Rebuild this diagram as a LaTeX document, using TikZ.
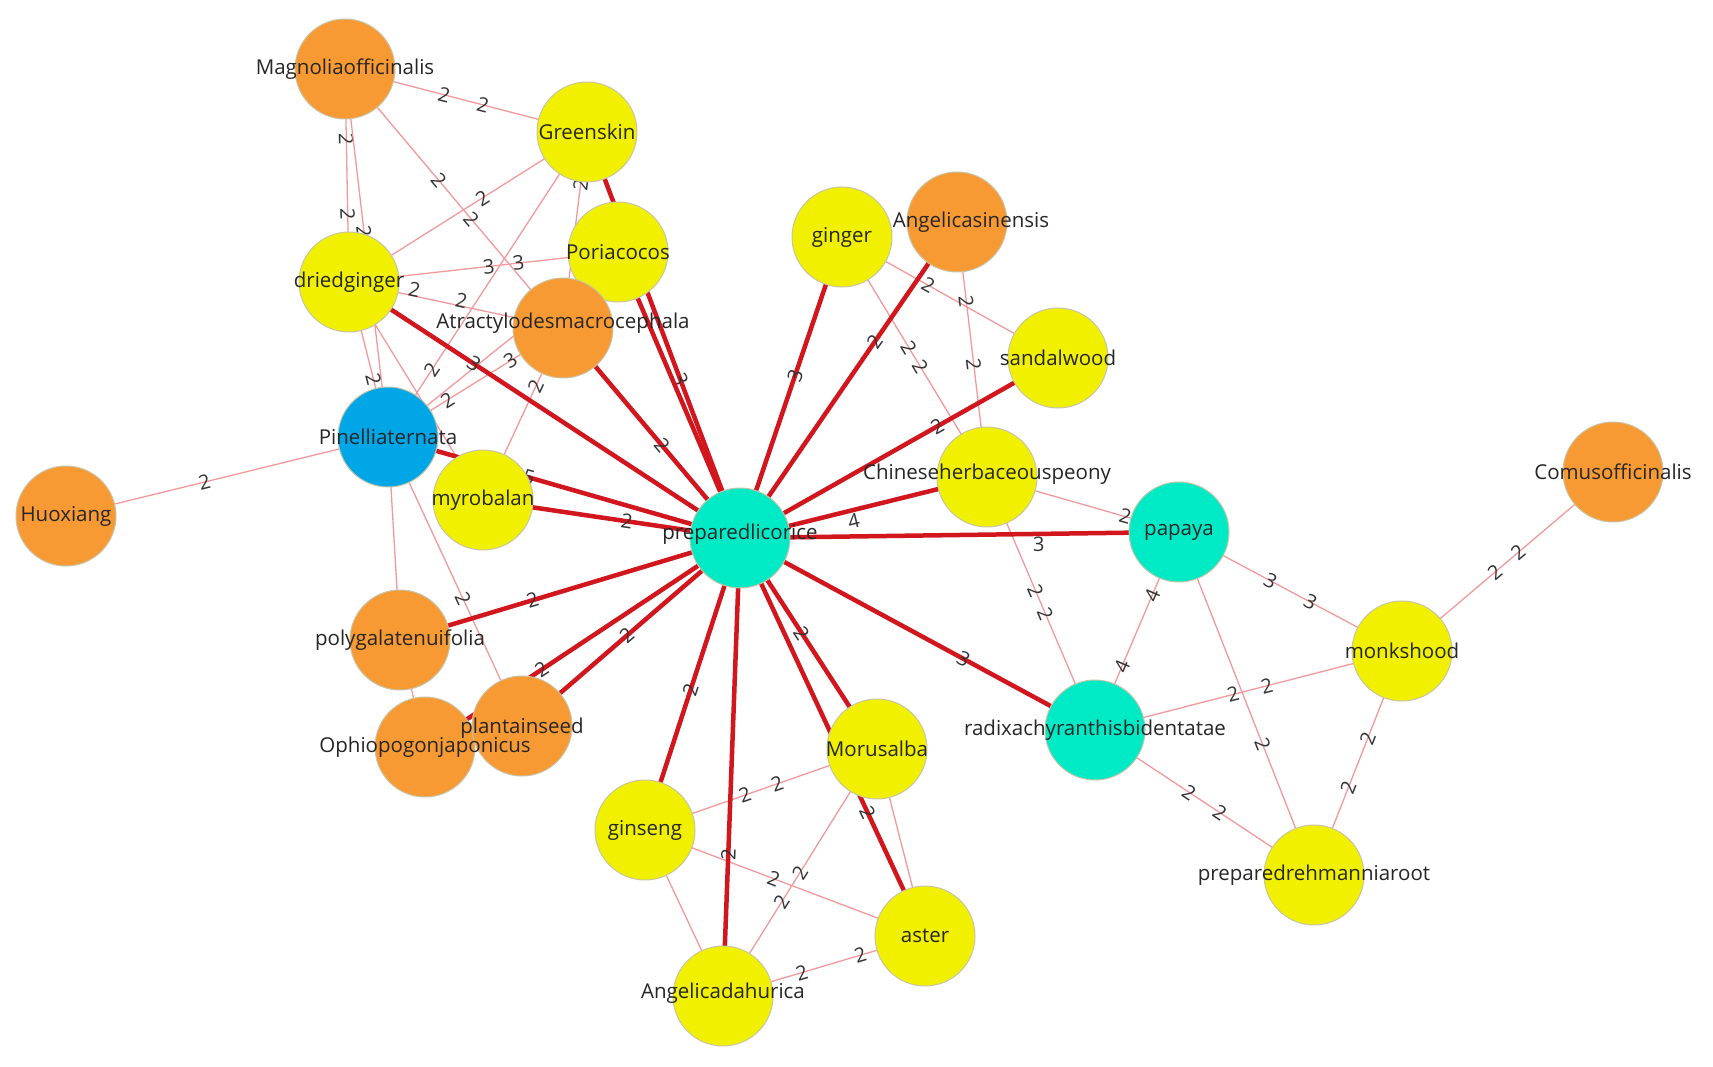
\documentclass[tikz,border=0pt]{standalone}
\usepackage{fontspec}
\setmainfont{Open Sans}
\usetikzlibrary{backgrounds}
\definecolor{cyel}{HTML}{F0F000}
\definecolor{corg}{HTML}{F89A33}
\definecolor{ctur}{HTML}{00EAC6}
\definecolor{cblu}{HTML}{00A6E6}
\definecolor{cbord}{HTML}{C8C4A8}
\definecolor{cthick}{HTML}{D2161E}
\definecolor{cthin}{HTML}{F2999C}
\definecolor{ctext}{HTML}{262626}
\definecolor{clab}{HTML}{333333}
\tikzset{
  herb/.style={circle, minimum size=100pt, inner sep=0pt, draw=cbord, line width=1pt},
  yel/.style={herb, fill=cyel},
  org/.style={herb, fill=corg},
  tur/.style={herb, fill=ctur},
  blu/.style={herb, fill=cblu},
  tk/.style={draw=cthick, line width=4.5pt},
  tn/.style={draw=cthin, line width=1.3pt},
  elab/.style={font=\fontsize{20}{20}\selectfont, text=clab, inner sep=1pt, sloped},
  nlab/.style={font=\fontsize{20.5}{21}\selectfont, text=ctext, inner sep=0pt}
}
\begin{document}
\begin{tikzpicture}[x=1pt,y=-1pt]
\useasboundingbox (0,0) rectangle (1713,1067);
% nodes (circles)
\node[org] (mag) at (345,69) {};
\node[yel] (green) at (587,132) {};
\node[yel] (poria) at (618,252) {};
\node[yel] (dried) at (349,282) {};
\node[org] (atrac) at (563,328) {};
\node[blu] (pinel) at (388,437) {};
\node[yel] (myro) at (483,500) {};
\node[org] (huox) at (66,516) {};
\node[tur] (pl) at (740,538) {};
\node[yel] (ginger) at (842,237) {};
\node[org] (asin) at (957,222) {};
\node[yel] (sandal) at (1058,358) {};
\node[yel] (peony) at (987,477) {};
\node[tur] (papaya) at (1179,532) {};
\node[org] (cornus) at (1613,472) {};
\node[yel] (monk) at (1402,651) {};
\node[tur] (radix) at (1095,730) {};
\node[yel] (rehm) at (1314,875) {};
\node[org] (polyg) at (400,640) {};
\node[org] (ophio) at (425,747) {};
\node[org] (plant) at (522,726) {};
\node[yel] (morus) at (877,749) {};
\node[yel] (ginseng) at (645,830) {};
\node[yel] (aster) at (925,936) {};
\node[yel] (adah) at (723,996) {};
% connectors behind the circles
\begin{pgfonlayer}{background}
\fill[white] (0,0) rectangle (1713,1067);
% thin connectors
\path[tn] (mag.center) -- (green.center) node[elab,pos=.41]{2} node[elab,pos=.57]{2};
\path[tn] (mag.center) -- (dried.center) node[elab,pos=.33]{2} node[elab,pos=.68]{2};
\path[tn] (mag.center) -- (pinel.center) node[elab,pos=.44]{2};
\path[tn] (mag.center) -- (atrac.center) node[elab,pos=.43]{2} node[elab,pos=.58]{2};
\path[tn] (green.center) -- (dried.center) node[elab,pos=.44]{2};
\path[tn] (green.center) -- (pinel.center) node[elab,pos=.78]{2};
\path[tn] (green.center) -- (atrac.center) node[elab,pos=.27]{2};
\path[tn] (dried.center) -- (poria.center) node[elab,pos=.52]{3} node[elab,pos=.63]{3};
\path[tn] (dried.center) -- (atrac.center) node[elab,pos=.30,above=-3pt]{2} node[elab,pos=.52,above=-3pt]{2};
\path[tn] (dried.center) -- (pinel.center) node[elab,pos=.63]{2};
\path[tn] (dried.center) -- (myro.center);
\path[tn] (pinel.center) -- (atrac.center) node[elab,pos=.34]{2} node[elab,pos=.70]{3};
\path[tn] (pinel.center) -- (poria.center);
\path[tn] (pinel.center) -- (huox.center) node[elab,pos=.57]{2};
\path[tn] (pinel.center) -- (polyg.center);
\path[tn] (pinel.center) -- (plant.center) node[elab,pos=.56]{2};
\path[tn] (atrac.center) -- (myro.center) node[elab,pos=.34]{2};
\path[tn] (polyg.center) -- (ophio.center);
\path[tn] (ginger.center) -- (sandal.center) node[elab,pos=.40]{2};
\path[tn] (asin.center) -- (peony.center) node[elab,pos=.31]{2} node[elab,pos=.56]{2};
\path[tn] (ginger.center) -- (peony.center) node[elab,pos=.46]{2} node[elab,pos=.54]{2};
\path[tn] (peony.center) -- (papaya.center) node[elab,pos=.72]{2};
\path[tn] (peony.center) -- (radix.center) node[elab,pos=.45]{2} node[elab,pos=.54]{2};
\path[tn] (papaya.center) -- (radix.center) node[elab,pos=.32]{4} node[elab,pos=.68]{4};
\path[tn] (papaya.center) -- (monk.center) node[elab,pos=.41]{3} node[elab,pos=.59]{3};
\path[tn] (papaya.center) -- (rehm.center) node[elab,pos=.62]{2};
\path[tn] (radix.center) -- (monk.center) node[elab,pos=.45]{2} node[elab,pos=.56]{2};
\path[tn] (radix.center) -- (rehm.center) node[elab,pos=.43]{2} node[elab,pos=.57]{2};
\path[tn] (monk.center) -- (rehm.center) node[elab,pos=.39]{2} node[elab,pos=.61]{2};
\path[tn] (cornus.center) -- (monk.center) node[elab,pos=.45]{2} node[elab,pos=.56]{2};
\path[tn] (ginseng.center) -- (morus.center) node[elab,pos=.43]{2} node[elab,pos=.57]{2};
\path[tn] (ginseng.center) -- (aster.center) node[elab,pos=.46]{2};
\path[tn] (ginseng.center) -- (adah.center);
\path[tn] (morus.center) -- (adah.center) node[elab,pos=.50]{2} node[elab,pos=.62]{2};
\path[tn] (morus.center) -- (aster.center);
\path[tn] (aster.center) -- (adah.center) node[elab,pos=.32]{2} node[elab,pos=.61]{2};
% thick connectors from preparedlicorice
\path[tk] (pl.center) -- (dried.center) node[elab,pos=.68]{3};
\path[tk] (pl.center) -- (green.center) node[elab,pos=.39]{3};
\path[tk] (pl.center) -- (poria.center);
\path[tk] (pl.center) -- (atrac.center) node[elab,pos=.44]{2};
\path[tk] (pl.center) -- (pinel.center) node[elab,pos=.60]{5};
\path[tk] (pl.center) -- (myro.center) node[elab,pos=.44]{2};
\path[tk] (pl.center) -- (ginger.center) node[elab,pos=.54]{3};
\path[tk] (pl.center) -- (asin.center) node[elab,pos=.62]{2};
\path[tk] (pl.center) -- (sandal.center) node[elab,pos=.62]{2};
\path[tk] (pl.center) -- (peony.center) node[elab,pos=.45,below]{4};
\path[tk] (pl.center) -- (papaya.center) node[elab,pos=.68,below]{3};
\path[tk] (pl.center) -- (radix.center) node[elab,pos=.63]{3};
\path[tk] (pl.center) -- (polyg.center) node[elab,pos=.61]{2};
\path[tk] (pl.center) -- (plant.center) node[elab,pos=.52]{2};
\path[tk] (pl.center) -- (ophio.center) node[elab,pos=.63]{2};
\path[tk] (pl.center) -- (ginseng.center) node[elab,pos=.52]{2};
\path[tk] (pl.center) -- (adah.center) node[elab,pos=.69]{2};
\path[tk] (pl.center) -- (morus.center) node[elab,pos=.45]{2};
\path[tk] (pl.center) -- (aster.center) node[elab,pos=.69]{2};
\end{pgfonlayer}
% node texts
\node[nlab] (tmag) at (mag) {Magnoliaofficinalis};
\node[nlab] (tgreen) at (green) {Greenskin};
\node[nlab] (tporia) at (poria) {Poriacocos};
\node[nlab] (tdried) at (dried) {driedginger};
\node[nlab] (tatrac) at ([yshift=5pt]atrac) {Atractylodesmacrocephala};
\node[nlab] (tpinel) at (pinel) {Pinelliaternata};
\node[nlab] (tmyro) at (myro) {myrobalan};
\node[nlab] (thuox) at (huox) {Huoxiang};
\node[nlab] (tpl) at ([yshift=4pt]pl) {preparedlicorice};
\node[nlab] (tginger) at (ginger) {ginger};
\node[nlab] (tasin) at ([xshift=14pt]asin) {Angelicasinensis};
\node[nlab] (tsandal) at (sandal) {sandalwood};
\node[nlab] (tpeony) at ([yshift=3pt]peony) {Chineseherbaceouspeony};
\node[nlab] (tpapaya) at (papaya) {papaya};
\node[nlab] (tcornus) at (cornus) {Comusofficinalis};
\node[nlab] (tmonk) at (monk) {monkshood};
\node[nlab] (tradix) at (radix) {radixachyranthisbidentatae};
\node[nlab] (trehm) at (rehm) {preparedrehmanniaroot};
\node[nlab] (tpolyg) at (polyg) {polygalatenuifolia};
\node[nlab] (tophio) at (ophio) {Ophiopogonjaponicus};
\node[nlab] (tplant) at ([yshift=-2pt]plant) {plantainseed};
\node[nlab] (tmorus) at (morus) {Morusalba};
\node[nlab] (tginseng) at (ginseng) {ginseng};
\node[nlab] (taster) at (aster) {aster};
\node[nlab] (tadah) at ([yshift=3pt]adah) {Angelicadahurica};
\end{tikzpicture}
\end{document}
